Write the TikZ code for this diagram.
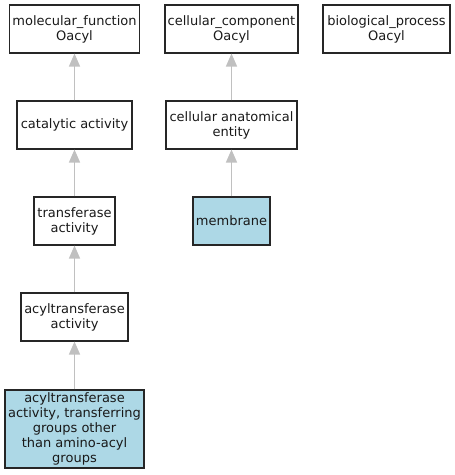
\documentclass[tikz,border=0pt]{standalone}
\usepackage{fontspec}
\setmainfont{DejaVu Sans}
\usetikzlibrary{arrows.meta}
\definecolor{lblue}{HTML}{ADD8E6}
\definecolor{edgegray}{HTML}{C0C0C0}
\begin{document}
\begin{tikzpicture}[x=1pt,y=-1pt,
  box/.style={draw=black!85,line width=1.1pt,inner sep=0pt,align=center,
    font=\fontsize{13}{15}\selectfont,text=black!90},
  hl/.style={fill=lblue},
  isa/.style={draw=edgegray,line width=1.5pt,-{Triangle[width=11pt,length=13pt]}}]
\useasboundingbox (0,0) rectangle (455,475);
\node[box,minimum width=130pt,minimum height=48pt] (mf) at (74.5,29) {molecular\_function\\Oacyl};
\node[box,minimum width=133pt,minimum height=48pt] (cc) at (231.5,29) {cellular\_component\\Oacyl};
\node[box,minimum width=127pt,minimum height=48pt] (bp) at (386.5,29) {biological\_process\\Oacyl};
\node[box,minimum width=115pt,minimum height=48pt] (ca) at (74.5,125) {catalytic activity};
\node[box,minimum width=131pt,minimum height=48pt] (cae) at (231.5,125) {cellular anatomical\\entity};
\node[box,minimum width=81pt,minimum height=48pt] (ta) at (74.5,221) {transferase\\activity};
\node[box,hl,minimum width=77pt,minimum height=48pt] (mem) at (231.5,221) {membrane};
\node[box,minimum width=107pt,minimum height=48pt] (aa) at (74.5,317) {acyltransferase\\activity};
\node[box,hl,minimum width=139pt,minimum height=78pt] (at) at (74.5,429) {acyltransferase\\activity, transferring\\groups other\\than amino-acyl\\groups};
\draw[isa] (ca) -- (mf);
\draw[isa] (ta) -- (ca);
\draw[isa] (aa) -- (ta);
\draw[isa] (at) -- (aa);
\draw[isa] (cae) -- (cc);
\draw[isa] (mem) -- (cae);
\end{tikzpicture}
\end{document}
